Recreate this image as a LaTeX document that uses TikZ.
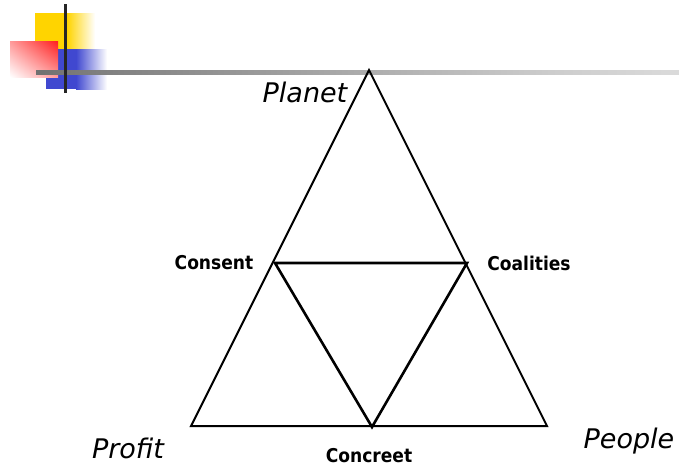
\documentclass[tikz,border=0pt]{standalone}
\usepackage{xcolor}
\usepackage{fontspec}
\setmainfont{DejaVu Sans}
\newfontfamily\condbold{DejaVu Sans Condensed}
\usepackage{tikz}
\usetikzlibrary{shadings}
\definecolor{markyellow}{RGB}{255,212,0}
\definecolor{markblue}{RGB}{64,72,208}
\definecolor{markred}{RGB}{255,30,30}
\pgfdeclarehorizontalshading{barfade}{100bp}{color(0bp)=(black!85); color(30bp)=(black!50); color(65bp)=(black!20); color(100bp)=(white)}

\begin{document}
\begin{tikzpicture}[x=1pt,y=-1pt]
                \useasboundingbox (0,0) rectangle (679,466);
                % corner mark
                \fill[markyellow] (35,13) rectangle (67,49);
                \shade[left color=markyellow, right color=white] (67,13) rectangle (95,49);
                \fill[markblue] (46,49) rectangle (77,89);
                \shade[left color=markblue, right color=white] (76,49) rectangle (107,89);
                \shade[upper right=markred, upper left=markred!45, lower right=markred!45, lower left=white] (10,41) rectangle (58,77);
                \shade[shading=barfade] (36,70) rectangle (679,74);
                \fill[black!85] (64,4) rectangle (67,93);
                % triangles
                \coordinate (planet) at (369,70);
                \coordinate (profit) at (191,426);
                \coordinate (people) at (547,426);
                \coordinate (consent) at (275,263);
                \coordinate (coalities) at (467,263);
                \coordinate (concreet) at (372,427);
                \draw[line width=2pt] (planet) -- (people) -- (profit) -- cycle;
                \draw[line width=2.6pt, line join=miter] (consent) -- (coalities) -- (concreet) -- cycle;
                % labels
                \node[font=\fontsize{27}{27}\selectfont\itshape] (planetlabel) at (305,92) {Planet};
                \node[font=\fontsize{27}{27}\selectfont\itshape] (profitlabel) at (128,448) {Profit};
                \node[font=\fontsize{27}{27}\selectfont\itshape] (peoplelabel) at (629,441) {People};
                \node[font=\fontsize{19}{19}\selectfont\condbold\bfseries] (consentlabel) at (214,263) {Consent};
                \node[font=\fontsize{19}{19}\selectfont\condbold\bfseries] (coalitieslabel) at (529,263) {Coalities};
                \node[font=\fontsize{19}{19}\selectfont\condbold\bfseries] (concreetlabel) at (369,456) {Concreet};
            \end{tikzpicture}
\end{document}
